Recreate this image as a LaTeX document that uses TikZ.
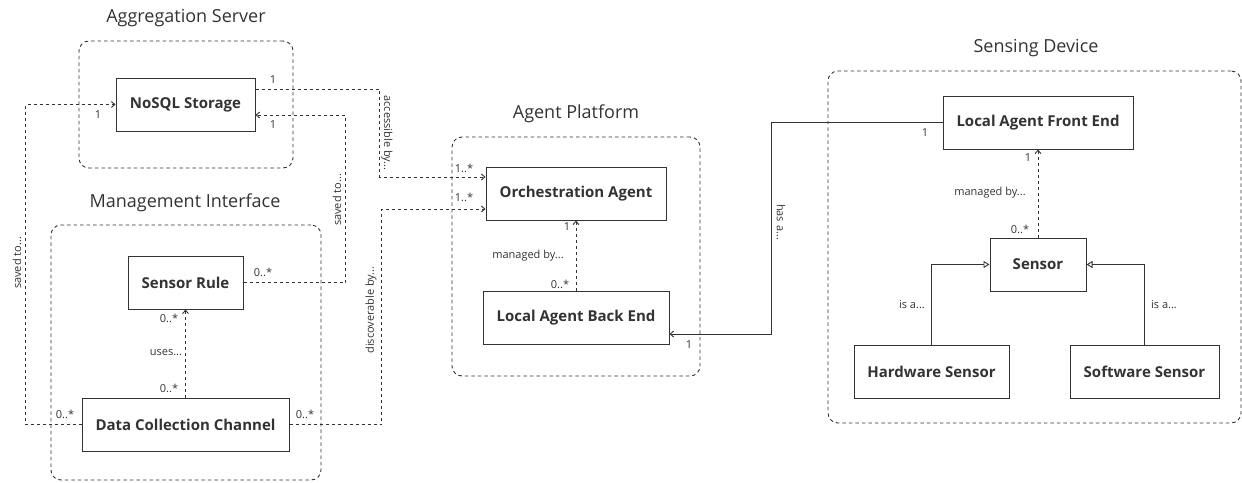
\documentclass[tikz,border=0pt]{standalone}
\usepackage{fontspec}
\setmainfont{Open Sans}
\usetikzlibrary{arrows.meta,positioning}
\definecolor{inkgray}{HTML}{333333}
\tikzset{
  umlbox/.style={draw=inkgray, line width=1pt, fill=white, text=inkgray, font=\fontsize{15}{17}\selectfont\bfseries, minimum height=53pt, inner sep=0pt},
  group/.style={draw=inkgray, dash pattern=on 3.5pt off 3pt, rounded corners=10pt, line width=0.9pt, inner sep=0pt},
  grouptitle/.style={text=inkgray, font=\fontsize{18}{21}\selectfont},
  mult/.style={text=inkgray, font=\fontsize{11}{13}\selectfont, inner sep=0pt},
  dep/.style={draw=inkgray, dash pattern=on 3pt off 3pt, line width=0.9pt, -{Straight Barb[length=3.5pt,width=6pt]}},
  assoc/.style={draw=inkgray, line width=0.9pt, -{Straight Barb[length=3.5pt,width=6pt]}},
  isa/.style={draw=inkgray, line width=0.9pt, -{Triangle[open,length=6pt,width=7pt,fill=white]}},
}

\begin{document}
\begin{tikzpicture}[x=1pt,y=-1pt]
			%%%%% START %%%%%
			\useasboundingbox (0,0) rectangle (1242,482);
			
			\node[group, minimum width=214pt, minimum height=127pt] (aggserver) at (186,104.5) {};
			\node[grouptitle] (aggtitle) at (186,18) {Aggregation Server};
			
			\node[group, minimum width=270pt, minimum height=255pt] (mgmt) at (186,352.5) {};
			\node[grouptitle] (mgmttitle) at (185,203) {Management Interface};
			
			\node[group, minimum width=248pt, minimum height=239pt] (platform) at (576,256.5) {};
			\node[grouptitle] (platformtitle) at (576,114) {Agent Platform};
			
			\node[group, minimum width=413pt, minimum height=352pt] (device) at (1034.5,247) {};
			\node[grouptitle] (devicetitle) at (1036,48) {Sensing Device};
			
			\node[umlbox, minimum width=139pt] (nosql) at (185.5,104.5) {NoSQL Storage};
			\node[umlbox, minimum width=115pt] (rule) at (185.5,282.5) {Sensor Rule};
			\node[umlbox, minimum width=207pt] (channel) at (185.5,424.5) {Data Collection Channel};
			\node[umlbox, minimum width=180pt] (orch) at (576,193.5) {Orchestration Agent};
			\node[umlbox, minimum width=186pt] (backend) at (576,317.5) {Local Agent Back End};
			\node[umlbox, minimum width=190pt] (frontend) at (1038,122.5) {Local Agent Front End};
			\node[umlbox, minimum width=96pt] (sensor) at (1038,264.5) {Sensor};
			\node[umlbox, minimum width=155pt] (hwsensor) at (931.5,371.5) {Hardware Sensor};
			\node[umlbox, minimum width=149pt] (swsensor) at (1144.5,371.5) {Software Sensor};
			
			\draw[dep] (channel.west) -- ++(-56,0) |- (nosql.west);
			\draw[dep] ([yshift=15.5pt]nosql.east) -- ++(124,0) |- ([yshift=16.5pt]orch.west);
			\draw[dep] (rule.east) -- ++(102,0) |- ([yshift=-10.5pt]nosql.east);
			\draw[dep] (channel.east) -- ++(92,0) |- ([yshift=-15.5pt]orch.west);
			\draw[dep] (channel.north) -- (rule.south);
			\draw[dep] (backend.north) -- (orch.south);
			\draw[assoc] (frontend.west) -- ++(-171,0) |- ([yshift=-16.5pt]backend.east);
			\draw[dep] (sensor.north) -- (frontend.south);
			\draw[isa] (hwsensor.north) |- (sensor.west);
			\draw[isa] (swsensor.north) |- (sensor.east);
			
			\node[mult] (m1) at (273,80) {1};
			\node[mult] (m2) at (98,115) {1};
			\node[mult] (m3) at (273,125) {1};
			\node[mult] (m4) at (263,272) {0..*};
			\node[mult] (m5) at (169,318) {0..*};
			\node[mult] (m6) at (169,388) {0..*};
			\node[mult] (m7) at (65,414) {0..*};
			\node[mult] (m8) at (305,414) {0..*};
			\node[mult] (m9) at (464,168) {1..*};
			\node[mult] (m10) at (464,197) {1..*};
			\node[mult] (m11) at (567,227) {1};
			\node[mult] (m12) at (560,284) {0..*};
			\node[mult] (m13) at (689,345) {1};
			\node[mult] (m14) at (925,133) {1};
			\node[mult] (m15) at (1028,158) {1};
			\node[mult] (m16) at (1020,229) {0..*};
			
			\node[mult] (uses) at (166,353) {uses...};
			\node[mult] (managed1) at (528,256) {managed by...};
			\node[mult] (managed2) at (990,193) {managed by...};
			\node[mult] (isa1) at (912,305) {is a...};
			\node[mult] (isa2) at (1164,305) {is a...};
			\node[mult, rotate=90] (saved1) at (17,263) {saved to...};
			\node[mult, rotate=90] (saved2) at (337,200) {saved to...};
			\node[mult, rotate=-90] (access) at (387,133) {accessible by...};
			\node[mult, rotate=90] (discover) at (371,310) {discoverable by...};
			\node[mult, rotate=-90] (hasa) at (781,222) {has a...};
			
			%%%%% END %%%%%
\end{tikzpicture}
\end{document}
